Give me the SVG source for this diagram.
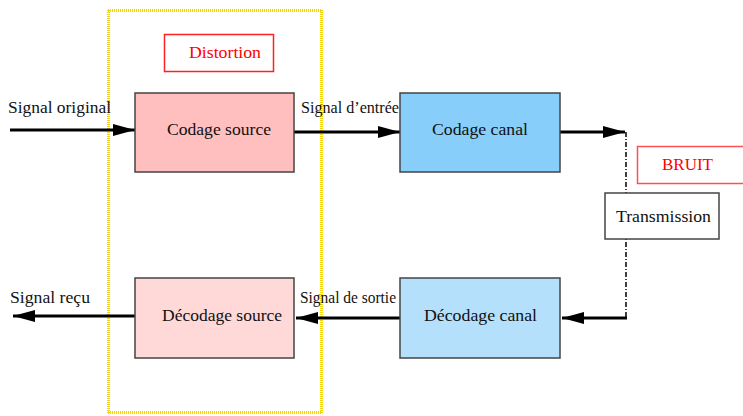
<svg xmlns="http://www.w3.org/2000/svg" width="743" height="416" viewBox="0 0 743 416">
<style>
text{font-family:"Liberation Serif","DejaVu Serif","Times New Roman",serif;fill:#111;}
.box{stroke:#444;stroke-width:1.5;}
.lbl{font-size:16px;}
.big{font-size:17px;text-anchor:middle;}
.red{fill:#ff0000;}
.ln{stroke:#000;stroke-width:3;fill:none;}
.dot{stroke:#f5d20f;stroke-width:3;stroke-dasharray:1 1;fill:none;}
</style>
<defs>
<marker id="ah" markerUnits="userSpaceOnUse" markerWidth="24" markerHeight="14" refX="22" refY="6" orient="auto">
<path d="M0,0 L22,6 L0,12 Z" fill="#000"/>
</marker>
</defs>
<rect x="0" y="0" width="743" height="416" fill="#fff"/>
<g id="distortion-zone">
<line class="dot" x1="108.5" y1="10" x2="108.5" y2="414"/>
<line class="dot" x1="321.5" y1="10" x2="321.5" y2="414"/>
<line class="dot" x1="108" y1="10.5" x2="322" y2="10.5"/>
<line class="dot" x1="108" y1="412.5" x2="322" y2="412.5"/>
</g>
<g id="connectors">
<line class="ln" x1="10" y1="130" x2="135" y2="130" marker-end="url(#ah)"/>
<line class="ln" x1="294" y1="132" x2="400" y2="132" marker-end="url(#ah)"/>
<line class="ln" x1="560" y1="132" x2="625" y2="132" marker-end="url(#ah)"/>
<line x1="626" y1="132" x2="626" y2="318" stroke="#000" stroke-width="1.5" stroke-dasharray="5 2 1 2"/>
<line class="ln" x1="627" y1="318" x2="562" y2="318" marker-end="url(#ah)"/>
<line class="ln" x1="400" y1="318" x2="296" y2="318" marker-end="url(#ah)"/>
<line class="ln" x1="135" y1="316" x2="13" y2="316" marker-end="url(#ah)"/>
<text class="lbl" x="8" y="113" font-size="17" textLength="103" lengthAdjust="spacingAndGlyphs">Signal original</text>
<text class="lbl" x="301" y="113" textLength="98" lengthAdjust="spacingAndGlyphs">Signal d’entrée</text>
<text class="lbl" x="300" y="303" textLength="96" lengthAdjust="spacingAndGlyphs">Signal de sortie</text>
<text class="lbl" x="10" y="303" font-size="17" textLength="80" lengthAdjust="spacingAndGlyphs">Signal reçu</text>
</g>
<g id="distortion">
<rect x="164.5" y="34.5" width="109" height="37" fill="#fff" stroke="#ff2020" stroke-width="1.5"/>
<text class="big red" x="225" y="58" textLength="72" lengthAdjust="spacingAndGlyphs">Distortion</text>
</g>
<g id="codage-source">
<rect class="box" x="135" y="93" width="159" height="79" fill="#ffbfbf"/>
<text class="big" x="219" y="135" textLength="104" lengthAdjust="spacingAndGlyphs">Codage source</text>
</g>
<g id="codage-canal">
<rect class="box" x="400" y="93" width="160" height="79" fill="#87cefa"/>
<text class="big" x="480" y="135" textLength="96" lengthAdjust="spacingAndGlyphs">Codage canal</text>
</g>
<g id="bruit">
<rect x="637.5" y="146.5" width="120" height="37" fill="#fff" stroke="#ff5050" stroke-width="1.5"/>
<text class="big red" x="687.5" y="170" textLength="51" lengthAdjust="spacingAndGlyphs">BRUIT</text>
</g>
<g id="transmission">
<rect class="box" x="605" y="193" width="114" height="46" fill="#fff"/>
<text class="big" x="663.5" y="222" textLength="95" lengthAdjust="spacingAndGlyphs">Transmission</text>
</g>
<g id="decodage-canal">
<rect class="box" x="400" y="278" width="160" height="80" fill="#b5e0fc"/>
<text class="big" x="480.5" y="321" textLength="113" lengthAdjust="spacingAndGlyphs">Décodage canal</text>
</g>
<g id="decodage-source">
<rect class="box" x="135" y="278" width="159" height="80" fill="#ffd8d8"/>
<text class="big" x="222" y="321" textLength="120" lengthAdjust="spacingAndGlyphs">Décodage source</text>
</g>
</svg>
